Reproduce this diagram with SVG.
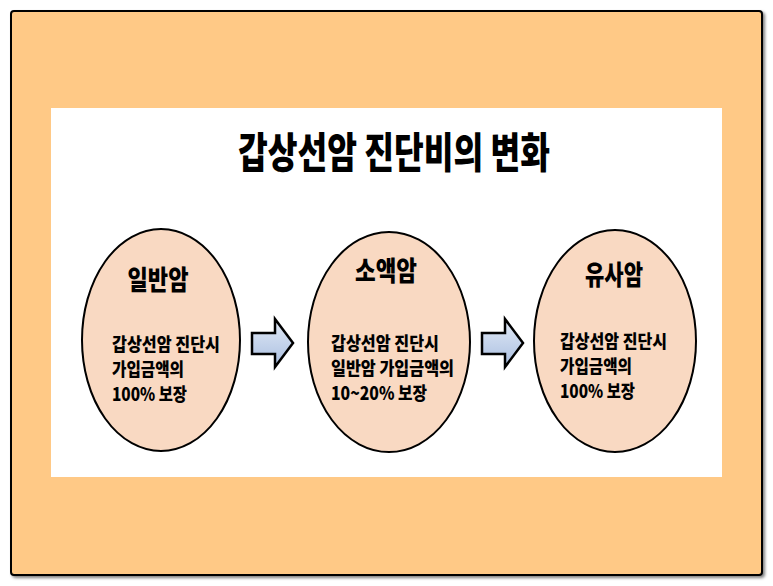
<svg xmlns="http://www.w3.org/2000/svg" width="773" height="586" viewBox="0 0 773 586">
<style>
  .ttl { font-family: "Noto Sans CJK KR", "Noto Sans", sans-serif; font-weight: 900; fill: #000; }
  .nt { font-family: "Noto Sans CJK KR", "Noto Sans", sans-serif; font-weight: 900; font-size: 27px; fill: #000; }
  .bd { font-family: "Noto Sans CJK KR", "Noto Sans", sans-serif; font-weight: 900; font-size: 18px; fill: #000; }
  .node ellipse { fill: #F9D9C2; stroke: #000; stroke-width: 2; }
  .arr { fill: url(#ag); stroke: #000; stroke-width: 2.5; stroke-linejoin: miter; }
</style>
<defs>
  <linearGradient id="ag" x1="0" y1="0" x2="0" y2="1">
    <stop offset="0" stop-color="#E2EAF6"/>
    <stop offset="1" stop-color="#A9BEE0"/>
  </linearGradient>
  <filter id="sh" x="-5%" y="-5%" width="110%" height="110%">
    <feGaussianBlur in="SourceAlpha" stdDeviation="1.5"/>
    <feOffset dx="2" dy="2" result="b"/>
    <feComponentTransfer><feFuncA type="linear" slope="0.5"/></feComponentTransfer>
    <feMerge><feMergeNode/><feMergeNode in="SourceGraphic"/></feMerge>
  </filter>
</defs>
<rect width="773" height="586" fill="#fff"/>
<rect x="11" y="11" width="751" height="564" rx="3" fill="#FFC986" stroke="#000" stroke-width="2" filter="url(#sh)"/>
<rect x="51" y="108" width="671" height="369" fill="#fff"/>
<text class="ttl" x="394" y="168" font-size="42" text-anchor="middle" textLength="312" lengthAdjust="spacingAndGlyphs">갑상선암 진단비의 변화</text>

<g id="node1" class="node">
  <ellipse cx="161" cy="340" rx="79" ry="111"/>
  <text class="nt" x="158" y="290" text-anchor="middle" textLength="61" lengthAdjust="spacingAndGlyphs">일반암</text>
  <text class="bd" x="112" y="351" textLength="108" lengthAdjust="spacingAndGlyphs">갑상선암 진단시</text>
  <text class="bd" x="112" y="376" textLength="72" lengthAdjust="spacingAndGlyphs">가입금액의</text>
  <text class="bd" x="112" y="401" textLength="75" lengthAdjust="spacingAndGlyphs">100% 보장</text>
</g>
<g id="node2" class="node">
  <ellipse cx="389" cy="342" rx="81" ry="110"/>
  <text class="nt" x="386" y="281" text-anchor="middle" textLength="62" lengthAdjust="spacingAndGlyphs">소액암</text>
  <text class="bd" x="331" y="350" textLength="108" lengthAdjust="spacingAndGlyphs">갑상선암 진단시</text>
  <text class="bd" x="331" y="375" textLength="123" lengthAdjust="spacingAndGlyphs">일반암 가입금액의</text>
  <text class="bd" x="331" y="400" textLength="96" lengthAdjust="spacingAndGlyphs">10~20% 보장</text>
</g>
<g id="node3" class="node">
  <ellipse cx="615" cy="341" rx="81" ry="111"/>
  <text class="nt" x="614" y="285" text-anchor="middle" textLength="58" lengthAdjust="spacingAndGlyphs">유사암</text>
  <text class="bd" x="560" y="348" textLength="107" lengthAdjust="spacingAndGlyphs">갑상선암 진단시</text>
  <text class="bd" x="560" y="373" textLength="72" lengthAdjust="spacingAndGlyphs">가입금액의</text>
  <text class="bd" x="560" y="398" textLength="75" lengthAdjust="spacingAndGlyphs">100% 보장</text>
</g>

<g id="connectors">
  <path class="arr" d="M252,333 H275 V319 L293,343 L275,367 V354 H252 Z"/>
  <path class="arr" d="M482,333 H505 V319 L523,343 L505,367 V354 H482 Z"/>
</g>
</svg>
